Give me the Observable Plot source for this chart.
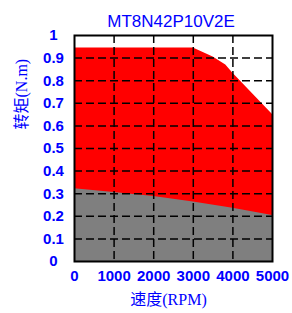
<!DOCTYPE html>
<html>
<head>
<meta charset="utf-8">
<script src="https://cdn.jsdelivr.net/npm/d3@7"></script>
<script src="https://cdn.jsdelivr.net/npm/@observablehq/plot@0.6"></script>
<style>
  html, body { margin: 0; padding: 0; background: #fff; }
</style>
</head>
<body>
<div id="chart"></div>
<script>
const title = "MT8N42P10V2E";
const xLabel = "速度(RPM)";
const yLabel = "转矩(N.m)";

// Peak torque envelope (red)
const peakSpeed  = [0, 1000, 2000, 3000, 3500, 3820, 4000, 5000];
const peakTorque = [0.945, 0.945, 0.945, 0.945, 0.905, 0.87, 0.833, 0.65];

// Continuous torque (gray)
const contSpeed  = [0, 1000, 2000, 3000, 4000, 5000];
const contTorque = [0.322, 0.305, 0.288, 0.263, 0.236, 0.204];

const xTicks = [0, 1000, 2000, 3000, 4000, 5000];
const yTicks = [0, 0.1, 0.2, 0.3, 0.4, 0.5, 0.6, 0.7, 0.8, 0.9, 1];
const yTickLabels = ["0", "0.1", "0.2", "0.3", "0.4", "0.5", "0.6", "0.7", "0.8", "0.9", "1"];

const peak = peakSpeed.map((s, i) => ({speed: s, torque: peakTorque[i]}));
const cont = contSpeed.map((s, i) => ({speed: s, torque: contTorque[i]}));
const yLab = yTicks.map((v, i) => ({v, label: yTickLabels[i]}));

const blue = "#0000ff";
const tickFont = "Liberation Sans, Arial, sans-serif";
const cjkFont = "Liberation Serif, Noto Sans CJK SC, serif";

const chart = Plot.plot({
  width: 292,
  height: 313,
  marginLeft: 74,
  marginRight: 20,
  marginTop: 35,
  marginBottom: 52,
  x: {domain: [0, 5000], axis: null},
  y: {domain: [0, 1], axis: null},
  style: {background: "#fff"},
  marks: [
    Plot.areaY(peak, {x: "speed", y: "torque", fill: "#ff0000"}),
    Plot.areaY(cont, {x: "speed", y: "torque", fill: "#7f7f7f"}),
    Plot.ruleX(xTicks.slice(1, -1), {stroke: "#000", strokeWidth: 1.5, strokeDasharray: "8,4"}),
    Plot.ruleY(yTicks.slice(1, -1), {stroke: "#000", strokeWidth: 1.5, strokeDasharray: "8,4"}),
    Plot.frame({stroke: "#000", strokeWidth: 2}),
    Plot.text(yLab, {x: () => 0, y: "v", text: "label", dx: -21, textAnchor: "middle",
      fill: blue, fontWeight: "bold", fontSize: 15, fontFamily: tickFont}),
    Plot.text(xTicks, {x: d => d, y: () => 0, text: d => String(d), dy: 15, textAnchor: "middle",
      fill: blue, fontWeight: "bold", fontSize: 15, fontFamily: tickFont}),
    Plot.text([title], {frameAnchor: "top", text: d => d, dy: -21, dx: -2.5,
      fill: blue, fontSize: 17, fontFamily: tickFont}),
    Plot.text([xLabel], {frameAnchor: "bottom", text: d => d, dy: 43, dx: -5,
      fill: blue, fontSize: 16, fontFamily: cjkFont}),
    Plot.text([yLabel], {frameAnchor: "left", text: d => d, rotate: -90, dx: -53, dy: -19,
      fill: blue, fontSize: 16, fontFamily: cjkFont})
  ]
});
document.getElementById("chart").appendChild(chart);
</script>
</body>
</html>
